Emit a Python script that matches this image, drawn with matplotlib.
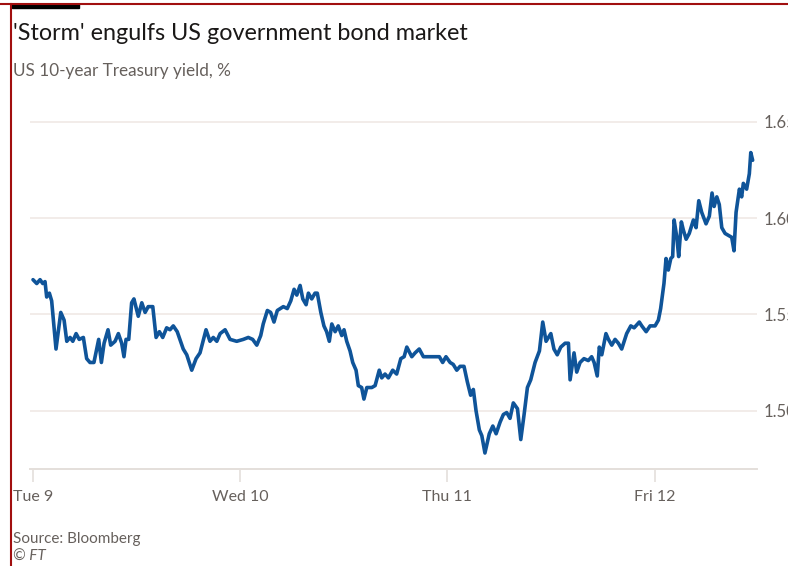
import matplotlib
matplotlib.use("Agg")
import matplotlib.pyplot as plt
from matplotlib.lines import Line2D
from matplotlib.patches import Rectangle

# days since Tue 9 00:00 and US 10-year Treasury yield (%)
day_offset = [
    0.000, 0.018, 0.034, 0.047, 0.058, 0.066, 0.079, 0.090, 0.111, 0.134,
    0.150, 0.163, 0.179, 0.192, 0.208, 0.223, 0.243, 0.259, 0.275, 0.294,
    0.317, 0.330, 0.343, 0.362, 0.375, 0.396, 0.412, 0.428, 0.439, 0.449,
    0.462, 0.476, 0.487, 0.508, 0.525, 0.541, 0.556, 0.578, 0.594, 0.610,
    0.626, 0.645, 0.661, 0.677, 0.696, 0.725, 0.742, 0.766, 0.787, 0.806,
    0.835, 0.854, 0.870, 0.887, 0.903, 0.927, 0.951, 0.983, 1.015, 1.039,
    1.060, 1.080, 1.099, 1.111, 1.131, 1.147, 1.163, 1.179, 1.208, 1.227,
    1.244, 1.260, 1.273, 1.289, 1.302, 1.318, 1.329, 1.345, 1.361, 1.372,
    1.389, 1.404, 1.417, 1.430, 1.442, 1.458, 1.473, 1.490, 1.501, 1.514,
    1.530, 1.543, 1.559, 1.570, 1.586, 1.597, 1.611, 1.635, 1.651, 1.671,
    1.683, 1.699, 1.715, 1.736, 1.755, 1.775, 1.791, 1.804, 1.828, 1.844,
    1.864, 1.884, 1.916, 1.961, 1.977, 1.993, 2.013, 2.028, 2.045, 2.061,
    2.080, 2.096, 2.112, 2.125, 2.138, 2.154, 2.166, 2.181, 2.202, 2.219,
    2.235, 2.254, 2.270, 2.286, 2.302, 2.318, 2.338, 2.354, 2.370, 2.386,
    2.402, 2.423, 2.444, 2.460, 2.476, 2.499, 2.514, 2.530, 2.547, 2.568,
    2.584, 2.592, 2.611, 2.624, 2.640, 2.659, 2.680, 2.696, 2.708, 2.723,
    2.733, 2.745, 2.765, 2.777, 2.793, 2.809, 2.825, 2.841, 2.865, 2.885,
    2.901, 2.926, 2.938, 2.959, 2.978, 3.002, 3.018, 3.029, 3.045, 3.055,
    3.066, 3.078, 3.087, 3.094, 3.107, 3.116, 3.129, 3.138, 3.152, 3.167,
    3.187, 3.200, 3.213, 3.227, 3.248, 3.264, 3.277, 3.287, 3.300, 3.312,
    3.324, 3.340, 3.356, 3.372, 3.383, 3.393, 3.409, 3.420, 3.428, 3.444,
    3.457, 3.464, 3.473,
]
yield_pct = [
    1.568, 1.566, 1.568, 1.566, 1.567, 1.559, 1.561, 1.557, 1.532, 1.551,
    1.547, 1.536, 1.538, 1.536, 1.540, 1.537, 1.538, 1.527, 1.525, 1.525,
    1.537, 1.525, 1.535, 1.542, 1.534, 1.536, 1.540, 1.535, 1.528, 1.537,
    1.537, 1.556, 1.558, 1.549, 1.556, 1.551, 1.554, 1.554, 1.538, 1.541,
    1.538, 1.543, 1.542, 1.544, 1.541, 1.532, 1.529, 1.521, 1.527, 1.530,
    1.542, 1.536, 1.538, 1.536, 1.540, 1.542, 1.537, 1.536, 1.537, 1.538,
    1.537, 1.534, 1.539, 1.545, 1.552, 1.551, 1.546, 1.552, 1.554, 1.553,
    1.557, 1.563, 1.560, 1.565, 1.558, 1.555, 1.561, 1.558, 1.561, 1.561,
    1.551, 1.544, 1.541, 1.536, 1.545, 1.541, 1.544, 1.539, 1.542, 1.536,
    1.531, 1.525, 1.521, 1.513, 1.512, 1.506, 1.512, 1.512, 1.513, 1.521,
    1.517, 1.519, 1.517, 1.521, 1.519, 1.527, 1.528, 1.533, 1.528, 1.530,
    1.532, 1.528, 1.528, 1.528, 1.525, 1.528, 1.525, 1.524, 1.521, 1.523,
    1.523, 1.515, 1.508, 1.511, 1.500, 1.490, 1.487, 1.478, 1.488, 1.492,
    1.488, 1.494, 1.498, 1.499, 1.496, 1.504, 1.501, 1.485, 1.498, 1.512,
    1.516, 1.525, 1.531, 1.546, 1.536, 1.540, 1.532, 1.529, 1.533, 1.535,
    1.535, 1.516, 1.530, 1.520, 1.525, 1.527, 1.526, 1.528, 1.525, 1.518,
    1.533, 1.529, 1.540, 1.537, 1.534, 1.537, 1.535, 1.532, 1.540, 1.544,
    1.543, 1.546, 1.544, 1.541, 1.544, 1.544, 1.547, 1.553, 1.566, 1.579,
    1.573, 1.579, 1.580, 1.599, 1.590, 1.580, 1.598, 1.594, 1.589, 1.592,
    1.599, 1.595, 1.609, 1.603, 1.597, 1.601, 1.613, 1.606, 1.611, 1.607,
    1.595, 1.592, 1.591, 1.590, 1.583, 1.603, 1.615, 1.611, 1.618, 1.615,
    1.623, 1.634, 1.630,
]

day_ticks = [0, 1, 2, 3]
day_labels = ["Tue 9", "Wed 10", "Thu 11", "Fri 12"]
yield_ticks = [1.50, 1.55, 1.60, 1.65]

W, H = 788, 566
plt.rcParams["font.family"] = ["Lato", "DejaVu Sans"]
fig = plt.figure(figsize=(W / 100, H / 100), dpi=100)
fig.patch.set_facecolor("white")

# axes placed in pixel terms (left 30, right 757, top 115, bottom 469)
ax = fig.add_axes([30 / W, (H - 469) / H, (757 - 30) / W, (469 - 115) / H])
ax.set_facecolor("white")
ax.plot(day_offset, yield_pct, color="#0f5499", lw=2.6, solid_joinstyle="round",
        solid_capstyle="round", zorder=3)

ax.set_xlim(-0.0145, 3.494)
ax.set_ylim(1.4697, 1.6535)

for s in ["top", "left", "right"]:
    ax.spines[s].set_visible(False)
ax.spines["bottom"].set_color("#e4dfdb")
ax.spines["bottom"].set_linewidth(1.4)

ax.set_xticks(day_ticks)
ax.set_xticklabels(day_labels)
ax.tick_params(axis="x", length=9, width=1.2, color="#e4dfdb", labelsize=11.5,
               labelcolor="#66605c", pad=6)

ax.yaxis.tick_right()
ax.set_yticks(yield_ticks)
ax.set_yticklabels([f"{v:.2f}" for v in yield_ticks])
ax.tick_params(axis="y", length=0, labelsize=12, labelcolor="#66605c", pad=5)
ax.grid(axis="y", color="#f0e9e5", lw=1.2)
ax.set_axisbelow(True)

fig.text(13 / W, 1 - 33 / H, "'Storm' engulfs US government bond market",
         fontsize=16.8, color="#1a1817", va="center", ha="left")
fig.text(13 / W, 1 - 71 / H, "US 10-year Treasury yield, %",
         fontsize=12.3, color="#66605c", va="center", ha="left")
fig.text(13 / W, 1 - 539 / H, "Source: Bloomberg",
         fontsize=11, color="#66605c", va="center", ha="left")
fig.text(13 / W, 1 - 557 / H, "\u00a9 FT", fontsize=11, style="italic",
         color="#66605c", va="center", ha="left")

# frame bits: dark red crop border and black bar
fig.add_artist(Line2D([0, 1], [1 - 3.5 / H, 1 - 3.5 / H], color="#a10f0f", lw=1.5,
                      transform=fig.transFigure))
fig.add_artist(Line2D([10.5 / W, 10.5 / W], [0, 1 - 3.5 / H], color="#a10f0f", lw=1.5,
                      transform=fig.transFigure))
fig.add_artist(Rectangle((12 / W, 1 - 8 / H), 67 / W, 4 / H, color="black",
                         transform=fig.transFigure))

fig.savefig("out.png", dpi=100)
